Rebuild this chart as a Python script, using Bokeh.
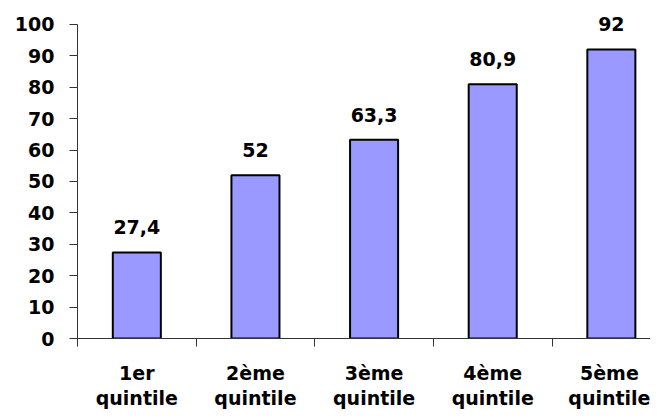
from bokeh.plotting import figure
from bokeh.models import Range1d, FixedTicker, ColumnDataSource
from bokeh.core.properties import value
from bokeh.embed import file_html
from bokeh.resources import INLINE

categories = ["1er\nquintile", "2ème\nquintile", "3ème\nquintile", "4ème\nquintile", "5ème\nquintile"]
values = [27.4, 52, 63.3, 80.9, 92]
value_labels = ["27,4", "52", "63,3", "80,9", "92"]
y_ticks = [0, 10, 20, 30, 40, 50, 60, 70, 80, 90, 100]

xs = [i + 0.5 for i in range(len(categories))]
src = ColumnDataSource(dict(x=xs, top=values, lab=value_labels))

p = figure(width=650, height=411, output_backend="svg", toolbar_location=None,
           x_range=Range1d(0, 4.83), y_range=Range1d(0, 106),
           min_border_left=77, min_border_right=0, min_border_top=5, min_border_bottom=73)
p.outline_line_color = None
p.xgrid.visible = False
p.ygrid.visible = False
p.background_fill_color = "white"

p.vbar(x="x", top="top", width=0.405, bottom=0, source=src,
       fill_color="#9999FF", line_color="black", line_width=2)

FONT = "DejaVu Sans"
p.text(x="x", y="top", text="lab", source=src, text_align="center",
       text_baseline="alphabetic", y_offset=-25,
       text_font=value(FONT), text_font_style="bold",
       text_font_size="19px", text_color="black")

ax = p.xaxis[0]
ax.ticker = FixedTicker(ticks=xs, minor_ticks=[0, 1, 2, 3, 4, 5])
ax.major_label_overrides = {x: c for x, c in zip(xs, categories)}
ax.major_tick_out = 0
ax.major_tick_in = 0
ax.minor_tick_out = 8
ax.minor_tick_in = 0
ax.minor_tick_line_color = "#333333"
ax.axis_line_color = "#333333"
ax.major_label_standoff = 15
ax.major_label_text_font = FONT
ax.major_label_text_font_style = "bold"
ax.major_label_text_font_size = "19px"
ax.major_label_text_color = "black"
ax.major_label_text_line_height = 1.15

ay = p.yaxis[0]
ay.ticker = FixedTicker(ticks=y_ticks)
ay.bounds = (0, 100)
ay.major_tick_out = 8
ay.major_tick_in = 0
ay.minor_tick_out = 0
ay.minor_tick_in = 0
ay.major_tick_line_color = "#333333"
ay.axis_line_color = "#333333"
ay.major_label_standoff = 15
ay.major_label_text_font = FONT
ay.major_label_text_font_style = "bold"
ay.major_label_text_font_size = "19px"
ay.major_label_text_color = "black"

open("out.html", "w").write(file_html(p, INLINE))
